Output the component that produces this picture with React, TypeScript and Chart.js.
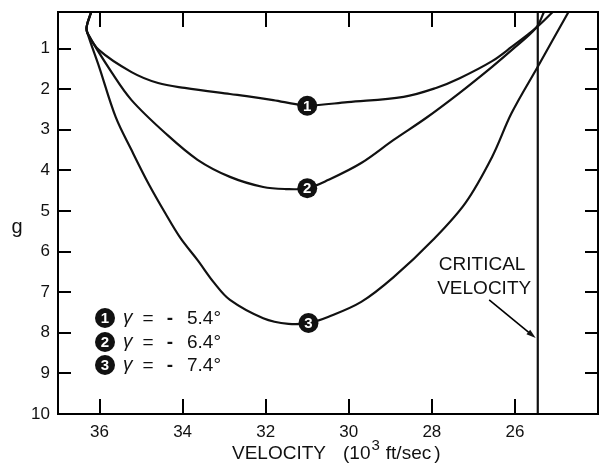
import React, { useEffect, useRef } from "react";
import { Chart, registerables } from "chart.js";
Chart.register(...registerables);

const xTicks = [36, 34, 32, 30, 28, 26];
const yTicks = [1, 2, 3, 4, 5, 6, 7, 8, 9, 10];
const curveNumbers = ["1", "2", "3"];
const gammaValues = ["5.4°", "6.4°", "7.4°"];

// [velocity (10^3 ft/sec), g]
const curve1 = [
  [36.2, 0.1], [36.31, 0.46], [36.29, 0.62], [36.01, 1.04], [35.23, 1.58], [34.59, 1.85],
  [33.95, 1.97], [32.86, 2.12], [32.46, 2.17], [31.82, 2.27], [31.28, 2.37], [31.0, 2.41],
  [30.03, 2.32], [28.68, 2.19], [27.9, 1.97], [27.33, 1.73], [26.55, 1.31], [26.08, 0.96],
  [25.49, 0.49], [25.09, 0.1],
];
const curve2 = [
  [36.2, 0.1], [36.31, 0.46], [36.29, 0.62], [35.7, 1.6], [35.23, 2.27], [34.42, 3.08],
  [33.64, 3.74], [32.86, 4.16], [32.06, 4.41], [31.52, 4.46], [31.0, 4.44], [30.5, 4.24],
  [29.7, 3.82], [28.92, 3.25], [28.14, 2.71], [27.33, 2.09], [26.55, 1.45], [26.08, 1.04],
  [25.49, 0.49], [25.3, 0.1],
];
const curve3 = [
  [36.2, 0.1], [36.31, 0.46], [36.29, 0.62], [36.01, 1.45], [35.61, 2.69], [35.23, 3.5],
  [34.83, 4.31], [34.42, 5.05], [34.05, 5.67], [33.64, 6.21], [33.24, 6.77], [32.86, 7.19],
  [32.06, 7.64], [31.45, 7.78], [30.97, 7.76], [30.5, 7.61], [29.7, 7.24], [28.92, 6.63],
  [27.97, 5.71], [27.19, 4.8], [26.55, 3.67], [26.08, 2.59], [25.44, 1.43], [25.09, 0.79],
  [24.71, 0.1],
];
const markerVelocity = [31.0, 31.0, 30.97];
const markerG = [2.41, 4.44, 7.76];
const criticalVelocity = 25.45;
const gRange = [0.1, 10];

const INK = "#111";
const FONT = "'Liberation Sans', Arial, sans-serif";

const toXY = (arr: number[][]) => arr.map(([x, y]) => ({ x, y }));

const decorPlugin = {
  id: "decor",
  afterDatasetsDraw(chart: any) {
    const { ctx } = chart;
    const meta = chart.getDatasetMeta(4);
    ctx.save();
    ctx.fillStyle = "#fff";
    ctx.font = `bold 15px 'Liberation Sans Narrow', ${FONT}`;
    ctx.textAlign = "center";
    ctx.textBaseline = "middle";
    meta.data.forEach((pt: any, i: number) => {
      ctx.fillText(curveNumbers[i], pt.x, pt.y + 1);
    });
    ctx.restore();
  },
  afterDraw(chart: any) {
    const { ctx, chartArea: a, scales } = chart;
    const x = scales.x;
    const y = scales.y;
    ctx.save();
    ctx.strokeStyle = "#000";
    ctx.fillStyle = "#000";
    ctx.lineWidth = 2;
    ctx.strokeRect(a.left, a.top, a.right - a.left, a.bottom - a.top);

    // inward tick marks on all four sides
    const L = Math.round(a.left), R = Math.round(a.right);
    const T = Math.round(a.top), B = Math.round(a.bottom);
    for (let i = 0; i < xTicks.length; i++) {
      const px = Math.round(x.getPixelForValue(xTicks[i]));
      ctx.fillRect(px - 1, B - 15, 2, 15);
      ctx.fillRect(px - 1, T, 2, 15);
    }
    for (let i = 0; i < yTicks.length; i++) {
      const py = Math.round(y.getPixelForValue(yTicks[i]));
      ctx.fillRect(L, py - 1, 13, 2);
      ctx.fillRect(R - 13, py - 1, 13, 2);
    }

    // arrow to critical velocity line
    ctx.fillStyle = INK;
    const ax1 = x.getPixelForValue(26.62), ay1 = y.getPixelForValue(7.19);
    const ax2 = x.getPixelForValue(25.5), ay2 = y.getPixelForValue(8.13);
    ctx.lineWidth = 1.6;
    ctx.beginPath();
    ctx.moveTo(ax1, ay1);
    ctx.lineTo(ax2 - 3, ay2 - 2.5);
    ctx.stroke();
    const ang = Math.atan2(ay2 - ay1, ax2 - ax1);
    ctx.beginPath();
    ctx.moveTo(ax2, ay2);
    ctx.lineTo(ax2 - 10 * Math.cos(ang - 0.3), ay2 - 10 * Math.sin(ang - 0.3));
    ctx.lineTo(ax2 - 10 * Math.cos(ang + 0.3), ay2 - 10 * Math.sin(ang + 0.3));
    ctx.closePath();
    ctx.fill();

    // CRITICAL VELOCITY label
    ctx.font = `19px ${FONT}`;
    ctx.textAlign = "center";
    ctx.textBaseline = "alphabetic";
    ctx.fillText("CRITICAL", x.getPixelForValue(26.79), y.getPixelForValue(6.45));
    ctx.fillText("VELOCITY", x.getPixelForValue(26.74), y.getPixelForValue(7.04));

    // legend
    const lx = a.left + 47;
    const rows = [a.top + 306, a.top + 330, a.top + 353];
    rows.forEach((cy, i) => {
      ctx.beginPath();
      ctx.arc(lx, cy, 10, 0, Math.PI * 2);
      ctx.fillStyle = INK;
      ctx.fill();
      ctx.fillStyle = "#fff";
      ctx.font = `bold 15px 'Liberation Sans Narrow', ${FONT}`;
      ctx.textAlign = "center";
      ctx.textBaseline = "middle";
      ctx.fillText(curveNumbers[i], lx, cy + 1);
      ctx.fillStyle = INK;
      ctx.textBaseline = "alphabetic";
      ctx.font = `italic 19px ${FONT}`;
      ctx.textAlign = "left";
      ctx.fillText("γ", a.left + 65, cy + 5);
      ctx.font = `19px ${FONT}`;
      ctx.textAlign = "center";
      ctx.fillText("=", a.left + 90, cy + 6);
      ctx.font = `bold 19px ${FONT}`;
      ctx.fillText("-", a.left + 112, cy + 6);
      ctx.font = `19px ${FONT}`;
      ctx.textAlign = "left";
      ctx.fillText(gammaValues[i], a.left + 129, cy + 6);
    });

    // axis titles
    ctx.textAlign = "left";
    ctx.textBaseline = "alphabetic";
    ctx.font = `19px ${FONT}`;
    ctx.fillText("VELOCITY", 232, 459);
    let cx = 343;
    ctx.fillText("(10", cx, 459);
    cx += ctx.measureText("(10").width + 1;
    ctx.font = `15px ${FONT}`;
    ctx.fillText("3", cx, 450);
    cx += ctx.measureText("3").width + 6;
    ctx.font = `19px ${FONT}`;
    ctx.fillText("ft/sec", cx, 459);
    cx += ctx.measureText("ft/sec").width + 3;
    ctx.fillText(")", cx, 459);
    ctx.textAlign = "center";
    ctx.font = `20px ${FONT}`;
    ctx.fillText("g", 17, 233);
    ctx.restore();
  },
};

export default function App() {
  const ref = useRef<HTMLCanvasElement | null>(null);
  useEffect(() => {
    if (!ref.current) return;
    const lineDs = (data: number[][]) => ({
      data: toXY(data),
      showLine: true,
      borderColor: INK,
      borderWidth: 2.2,
      pointRadius: 0,
      tension: 0.35,
      fill: false,
    });
    const chart = new Chart(ref.current, {
      type: "scatter",
      data: {
        datasets: [
          lineDs(curve1),
          lineDs(curve2),
          lineDs(curve3),
          {
            data: gRange.map((g) => ({ x: criticalVelocity, y: g })),
            showLine: true,
            borderColor: INK,
            borderWidth: 2.2,
            pointRadius: 0,
            tension: 0,
          },
          {
            data: markerVelocity.map((v, i) => ({ x: v, y: markerG[i] })),
            showLine: false,
            pointRadius: 10,
            pointBackgroundColor: INK,
            pointBorderColor: INK,
            pointBorderWidth: 0,
          },
        ] as any,
      },
      options: {
        animation: false,
        responsive: false,
        maintainAspectRatio: false,
        layout: { padding: { top: 12, left: 0, right: 0, bottom: 0 } },
        plugins: { legend: { display: false }, tooltip: { enabled: false } },
        scales: {
          x: {
            type: "linear",
            min: 24,
            max: 37,
            reverse: true,
            afterFit: (s: any) => {
              s.height = 59;
              s.paddingLeft = 0;
              s.paddingRight = 0;
            },
            afterBuildTicks: (s: any) => {
              s.ticks = xTicks.map((v) => ({ value: v }));
            },
            grid: { display: false, drawTicks: false },
            border: { display: false },
            ticks: {
              padding: 8,
              color: INK,
              font: { family: FONT, size: 17 },
              maxRotation: 0,
              autoSkip: false,
            },
          },
          y: {
            type: "linear",
            min: gRange[0],
            max: gRange[1],
            reverse: true,
            afterFit: (s: any) => {
              s.width = 58;
              s.paddingTop = 0;
              s.paddingBottom = 0;
            },
            afterBuildTicks: (s: any) => {
              s.ticks = yTicks.map((v) => ({ value: v }));
            },
            grid: { display: false, drawTicks: false },
            border: { display: false },
            ticks: {
              padding: 8,
              color: INK,
              font: { family: FONT, size: 17 },
              autoSkip: false,
            },
          },
        },
      } as any,
      plugins: [decorPlugin],
    });
    return () => chart.destroy();
  }, []);
  return (
    <div
      style={{
        position: "fixed",
        left: 0,
        top: 0,
        width: 601,
        height: 473,
        overflow: "hidden",
        background: "#fff",
      }}
    >
      <canvas ref={ref} width={608} height={473} style={{ display: "block" }} />
    </div>
  );
}
